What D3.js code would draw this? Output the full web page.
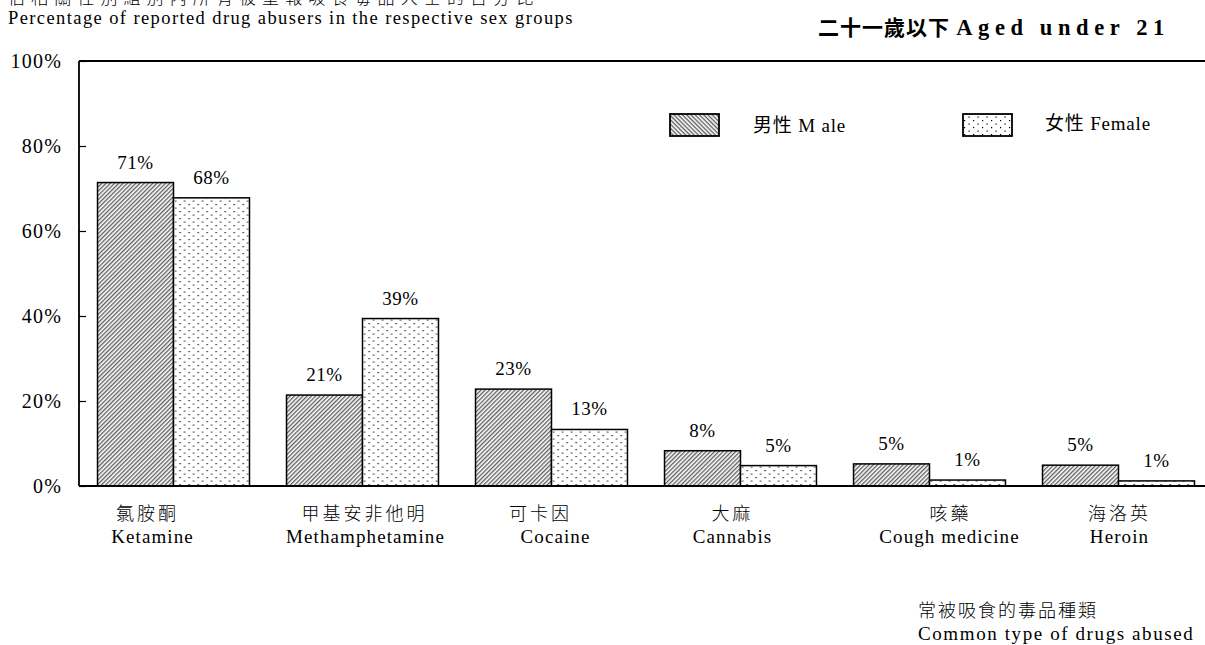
<!DOCTYPE html>
<html>
<head>
<meta charset="utf-8">
<script src="https://cdn.jsdelivr.net/npm/d3@7"></script>
<style>
  html, body { margin: 0; padding: 0; background: #fff; }
  svg { display: block; }
  text { font-family: "Liberation Serif", "Noto Sans CJK TC", serif; fill: #000; }
</style>
</head>
<body>
<svg id="chart" width="1205" height="645"></svg>
<script>
// Drug categories (Chinese / English)
const categoriesZh = ["氯胺酮", "甲基安非他明", "可卡因", "大麻", "咳藥", "海洛英"];
const categoriesEn = ["Ketamine", "Methamphetamine", "Cocaine", "Cannabis", "Cough medicine", "Heroin"];

// Share of reported abusers aged under 21, by sex (%)
const maleValues   = [71.4, 21.4, 22.8, 8.3, 5.2, 4.9];
const femaleValues = [67.8, 39.4, 13.3, 4.8, 1.4, 1.2];

const seriesKeys   = ["male", "female"];
const seriesLabels = ["男性 M ale", "女性 Female"];
const yTicks       = [0, 20, 40, 60, 80, 100];

// small horizontal nudges for the category captions (Chinese line, English line)
const captionNudgeZh = [-26, 2, -11, -8, 21, 1];
const captionNudgeEn = [-21, 3, 4, -8, 20, 1];

const rows = categoriesEn.map((c, i) => ({
  key: c, zh: categoriesZh[i], en: c,
  male: maleValues[i], female: femaleValues[i]
}));

const svg = d3.select("#chart");
const plotLeft = 79, plotTop = 61, plotBottom = 486, plotRight = 1213;

const defs = svg.append("defs");
// diagonal hatch (bars lean one way, the legend key the other)
function hatch(id, angle) {
  const p = defs.append("pattern")
    .attr("id", id).attr("patternUnits", "userSpaceOnUse")
    .attr("width", 3).attr("height", 3)
    .attr("patternTransform", `rotate(${angle})`);
  p.append("rect").attr("width", 3).attr("height", 3).attr("fill", "#fff");
  p.append("line").attr("x1", 0).attr("y1", 0.75).attr("x2", 3).attr("y2", 0.75)
    .attr("stroke", "#000").attr("stroke-width", 0.85);
}
hatch("hatchBar", -45);
hatch("hatchKey", 45);
// dotted fill for female
const dots = defs.append("pattern")
  .attr("id", "dots").attr("patternUnits", "userSpaceOnUse")
  .attr("width", 9).attr("height", 7);
dots.append("rect").attr("width", 9).attr("height", 7).attr("fill", "#fff");
dots.append("rect").attr("x", 1).attr("y", 1).attr("width", 1.2).attr("height", 1.2).attr("fill", "#000");
dots.append("rect").attr("x", 5.5).attr("y", 4.5).attr("width", 1.2).attr("height", 1.2).attr("fill", "#000");

const fills = { male: "url(#hatchBar)", female: "url(#dots)" };
const keyFills = { male: "url(#hatchKey)", female: "url(#dots)" };

const x0 = d3.scaleBand().domain(categoriesEn).range([plotLeft, plotRight])
  .paddingInner(0.196).paddingOuter(0.098);
const x1 = d3.scaleBand().domain(seriesKeys).range([0, x0.bandwidth()]);
const y = d3.scaleLinear().domain([0, 100]).range([plotBottom, plotTop]);

// Y axis: inward ticks, labels placed to the left
const yAxis = d3.axisRight(y).tickValues(yTicks).tickSize(7).tickFormat("");
const gy = svg.append("g").attr("transform", `translate(${plotLeft},0)`).call(yAxis);
gy.select(".domain").remove();
gy.selectAll("line").attr("stroke", "#000").attr("stroke-width", 1.2);

svg.append("g").selectAll("text").data(yTicks).join("text")
  .attr("x", 62).attr("y", d => y(d)).attr("dy", "0.35em")
  .attr("text-anchor", "end").attr("font-size", 20).attr("letter-spacing", 1.2)
  .text(d => d + "%");

// bars
const groups = svg.append("g").selectAll("g").data(rows).join("g")
  .attr("transform", d => `translate(${x0(d.key)},0)`);

groups.selectAll("rect").data(d => seriesKeys.map(k => ({ k, v: d[k] }))).join("rect")
  .attr("x", d => x1(d.k)).attr("width", x1.bandwidth())
  .attr("y", d => y(d.v)).attr("height", d => y(0) - y(d.v))
  .attr("fill", d => fills[d.k]).attr("stroke", "#000").attr("stroke-width", 1.5);

groups.selectAll("text.val").data(d => seriesKeys.map(k => ({ k, v: d[k] }))).join("text")
  .attr("class", "val")
  .attr("x", d => x1(d.k) + x1.bandwidth() / 2)
  .attr("y", d => y(d.v) - 14)
  .attr("text-anchor", "middle").attr("font-size", 19).attr("letter-spacing", 0.5)
  .text(d => Math.round(d.v) + "%");

// frame: left axis, top line and baseline
const frame = svg.append("g").attr("stroke", "#000").attr("stroke-width", 1.8).attr("fill", "none");
frame.append("line").attr("x1", plotLeft).attr("x2", plotLeft).attr("y1", y(100)).attr("y2", y(0));
frame.append("line").attr("x1", plotLeft).attr("x2", plotRight).attr("y1", y(100)).attr("y2", y(100));
frame.append("line").attr("x1", plotLeft).attr("x2", plotRight).attr("y1", y(0)).attr("y2", y(0));

// category captions
const caps = svg.append("g").selectAll("g").data(rows).join("g")
  .attr("transform", d => `translate(${x0(d.key) + x0.bandwidth() / 2},0)`);
caps.append("text").attr("x", (d, i) => captionNudgeZh[i]).attr("y", 520)
  .attr("text-anchor", "middle")
  .attr("font-size", 18).attr("font-family", "'Noto Sans CJK TC', sans-serif")
  .attr("font-weight", 300).attr("letter-spacing", 3)
  .text(d => d.zh);
caps.append("text").attr("x", (d, i) => captionNudgeEn[i]).attr("y", 543)
  .attr("text-anchor", "middle")
  .attr("font-size", 19).attr("letter-spacing", 1.1)
  .text(d => d.en);

// legend
const legendX = [670, 963];
const legendTextX = [753, 1045];
const lg = svg.append("g").selectAll("g").data(seriesKeys).join("g");
lg.append("rect").attr("x", (d, i) => legendX[i]).attr("y", 114)
  .attr("width", 49).attr("height", 22)
  .attr("fill", d => keyFills[d]).attr("stroke", "#000").attr("stroke-width", 1.8);
lg.append("text").attr("x", (d, i) => legendTextX[i]).attr("y", (d, i) => i ? 130 : 132)
  .attr("font-size", 19).attr("letter-spacing", 0.8)
  .text((d, i) => seriesLabels[i]);

// titles
svg.append("text").attr("x", 8).attr("y", 4).attr("font-size", 17)
  .attr("font-family", "'Noto Sans CJK TC', sans-serif").attr("font-weight", 300)
  .attr("letter-spacing", 6.1)
  .text("佔相關性別組別內所有被呈報吸食毒品人士的百分比");
svg.append("text").attr("x", 8).attr("y", 24).attr("font-size", 18.5)
  .attr("letter-spacing", 1.4)
  .text("Percentage of reported drug abusers in the respective sex groups");

const title = svg.append("text").attr("x", 818).attr("y", 35).attr("font-weight", "bold");
title.append("tspan").attr("font-size", 21).attr("letter-spacing", 1).text("二十一歲以下 ");
title.append("tspan").attr("font-size", 22.5).attr("letter-spacing", 5.6).text("Aged under 21");

// axis caption, bottom right
svg.append("text").attr("x", 918).attr("y", 617).attr("font-size", 18)
  .attr("font-family", "'Noto Sans CJK TC', sans-serif").attr("font-weight", 300)
  .attr("letter-spacing", 2)
  .text("常被吸食的毒品種類");
svg.append("text").attr("x", 918).attr("y", 640).attr("font-size", 19)
  .attr("letter-spacing", 1.6)
  .text("Common type of drugs abused");
</script>
</body>
</html>
